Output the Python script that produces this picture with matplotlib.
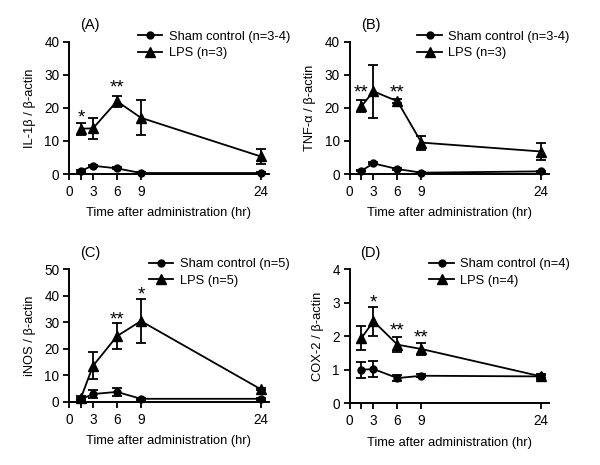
import matplotlib
matplotlib.use('Agg')
import matplotlib.pyplot as plt
from matplotlib.lines import Line2D

plt.rcParams['font.family'] = ['Liberation Sans', 'DejaVu Sans']
plt.rcParams['font.size'] = 9

#----data----#
times = [1.5, 3, 6, 9, 24]

# (A) IL-1b
il1b_sham = [1.0, 2.5, 1.7, 0.3, 0.3]
il1b_sham_err = [0.3, 0.3, 0.3, 0.2, 0.2]
il1b_lps = [13.7, 13.8, 22.0, 17.0, 5.3]
il1b_lps_err = [1.8, 3.1, 1.7, 5.3, 2.3]
il1b_stars = [(1.5, 18.8, '*'), (6, 27.9, '**')]

# (B) TNF-a
tnf_sham = [1.0, 3.2, 1.5, 0.4, 0.8]
tnf_sham_err = [0.2, 0.3, 0.2, 0.2, 0.2]
tnf_lps = [20.5, 25.0, 22.0, 9.5, 6.8]
tnf_lps_err = [1.9, 8.1, 0.6, 2.1, 2.6]
tnf_stars = [(1.5, 26.2, '**'), (6, 26.2, '**')]

# (C) iNOS
inos_sham = [1.0, 3.0, 3.8, 1.2, 1.2]
inos_sham_err = [0.4, 1.4, 1.4, 0.3, 0.3]
inos_lps = [1.6, 13.6, 24.8, 30.5, 4.8]
inos_lps_err = [0.8, 5.1, 5.0, 8.4, 0.4]
inos_stars = [(6, 33.0, '**'), (9, 42.5, '*')]

# (D) COX-2
cox_sham = [1.0, 1.02, 0.75, 0.82, 0.8]
cox_sham_err = [0.24, 0.23, 0.1, 0.04, 0.05]
cox_lps = [1.95, 2.45, 1.75, 1.62, 0.8]
cox_lps_err = [0.36, 0.43, 0.22, 0.18, 0.08]
cox_stars = [(3, 3.18, '*'), (6, 2.35, '**'), (9, 2.13, '**')]

panels = [
    ('(A)', 'IL-1\u03b2 / \u03b2-actin', il1b_sham, il1b_sham_err, il1b_lps, il1b_lps_err,
     il1b_stars, 40, 10, '3-4', '3', [0.115, 0.6258, 0.333, 0.2845], 0.345),
    ('(B)', 'TNF-\u03b1 / \u03b2-actin', tnf_sham, tnf_sham_err, tnf_lps, tnf_lps_err,
     tnf_stars, 40, 10, '3-4', '3', [0.5825, 0.6258, 0.333, 0.2845], 0.34),
    ('(C)', 'iNOS / \u03b2-actin', inos_sham, inos_sham_err, inos_lps, inos_lps_err,
     inos_stars, 50, 10, '5', '5', [0.115, 0.1355, 0.333, 0.2854], 0.40),
    ('(D)', 'COX-2 / \u03b2-actin', cox_sham, cox_sham_err, cox_lps, cox_lps_err,
     cox_stars, 4, 1, '4', '4', [0.5825, 0.133, 0.333, 0.2875], 0.40),
]

fig = plt.figure(figsize=(6, 4.65), dpi=100)

for (tag, ylab, sham, sham_err, lps, lps_err, stars, ymax, ystep,
     n_sham, n_lps, rect, leg_x) in panels:
    ax = fig.add_axes(rect)
    ax.errorbar(times, sham, yerr=sham_err, color='black', marker='o', markersize=5,
                lw=1.3, elinewidth=1.3, capsize=3.5, capthick=1.3, clip_on=False, zorder=3)
    ax.errorbar(times, lps, yerr=lps_err, color='black', marker='^', markersize=6.5,
                lw=1.3, elinewidth=1.3, capsize=3.5, capthick=1.3, clip_on=False, zorder=3)
    # significance marks, shifted down so the glyph centre sits on the value
    for sx, sy, s in stars:
        ax.annotate(s, (sx, sy), xytext=(0, -7.5), textcoords='offset points',
                    ha='center', va='baseline', fontsize=13.5)

    ax.set_xlim(0, 25)
    ax.set_ylim(0, ymax)
    ax.set_xticks([0, 1.5, 3, 6, 9, 24])
    ax.set_xticklabels(['0', '', '3', '6', '9', '24'])
    ax.set_yticks(range(0, ymax + 1, ystep))
    for side in ['top', 'right']:
        ax.spines[side].set_visible(False)
    for side in ['left', 'bottom']:
        ax.spines[side].set_linewidth(1.4)
    ax.tick_params(direction='out', length=4.5, width=1.3, labelsize=9.8, pad=2.5)
    ax.tick_params(axis='x', pad=3.5)
    ax.set_xlabel('Time after administration (hr)', fontsize=9.3, labelpad=6)
    ax.set_ylabel(ylab, fontsize=9.3, labelpad=6)
    ax.text(0.105, 1.125, tag, transform=ax.transAxes, ha='center', va='center', fontsize=10.5)

    handles = [Line2D([], [], color='black', marker='o', markersize=5, lw=1.3),
               Line2D([], [], color='black', marker='^', markersize=6.5, lw=1.3)]
    labels = ['Sham control (n=' + n_sham + ')', 'LPS (n=' + n_lps + ')']
    ax.legend(handles, labels, loc='upper left', bbox_to_anchor=(leg_x, 1.085), frameon=False,
              borderpad=0, borderaxespad=0, handlelength=1.9, handletextpad=0.5,
              labelspacing=0.35, fontsize=9.3)

fig.savefig('out.png', dpi=100)
